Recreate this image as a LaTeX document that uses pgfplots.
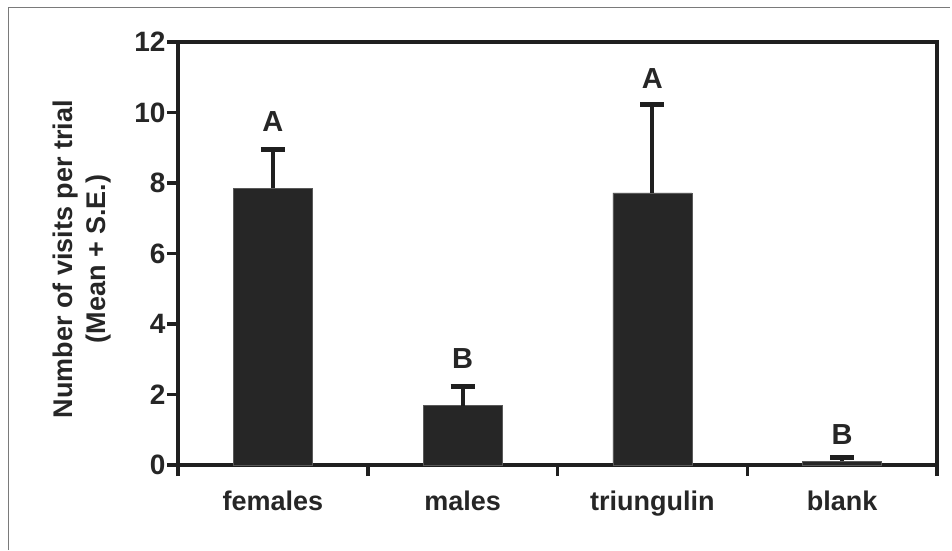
\documentclass[border=0pt]{standalone}
\usepackage{fontspec}
\setmainfont{Liberation Sans}
\usepackage{pgfplots}
\pgfplotsset{compat=1.18}

\definecolor{barfill}{HTML}{262626}
\definecolor{frame}{HTML}{7A7A7A}

\newcommand{\chartfont}{\fontsize{27}{33}\selectfont\bfseries}
\newcommand{\tickfont}{\fontsize{28}{33}\selectfont\bfseries}
\newcommand{\letterfont}{\fontsize{29}{33}\selectfont\bfseries}

\begin{document}
\begin{tikzpicture}
% page: 952 x 550, axis lower-left corner at (178,465) px from top-left
\path[use as bounding box, fill=white] (-178pt,-85pt) rectangle (774pt,465pt);
\draw[frame, line width=1pt] (-169pt,-85pt) -- (-169pt,457pt) -- (772pt,457pt);
\begin{axis}[
    at={(0,0)}, anchor=south west,
    scale only axis,
    width=759pt, height=423pt,
    xmin=-0.5, xmax=3.5,
    ymin=0, ymax=12,
    ytick={0,2,...,12},
    xtick={0,1,2,3},
    xticklabels={females,males,triungulin,blank},
    minor xtick={-0.5,0.5,1.5,2.5,3.5},
    major tick length=0pt,
    tick pos=left,
    tick align=outside,
    axis line style={line width=3.5pt, black!88},
    every tick/.style={line width=3.5pt, black!88},
    ytick style={/pgfplots/major tick length=11pt},
    minor tick length=11pt,
    every tick label/.append style={text=black!85},
    yticklabel style={font=\tickfont, xshift=-9pt},
    xticklabel style={font=\chartfont, yshift=-22pt},
    /pgf/number format/assume math mode=true,
    ylabel={Number of visits per trial\\(Mean + S.E.)},
    ylabel style={font=\chartfont, text=black!85, align=center,
        at={(axis description cs:-0.126,0.487)}, anchor=center},
    clip=false,
]
\addplot[ybar, bar width=79pt, fill=barfill, draw=black!65, line width=0.6pt,
    error bars/.cd, y dir=plus, y explicit,
    error bar style={line width=4pt, black!88},
    error mark options={rotate=90, mark size=12pt, line width=5pt, black!88}]
    coordinates {
    (0,7.85) +- (0,1.10)
    (1,1.68) +- (0,0.54)
    (2,7.72) +- (0,2.50)
    (3,0.10) +- (0,0.10)
    };
\node[font=\letterfont, text=black!85, anchor=base] at (axis cs:0,8.95) [yshift=18pt] {A};
\node[font=\letterfont, text=black!85, anchor=base] at (axis cs:1,2.22) [yshift=18pt] {B};
\node[font=\letterfont, text=black!85, anchor=base] at (axis cs:2,10.22) [yshift=16pt] {A};
\node[font=\letterfont, text=black!85, anchor=base] at (axis cs:3,0.20) [yshift=13pt] {B};
\end{axis}
\end{tikzpicture}
\end{document}
